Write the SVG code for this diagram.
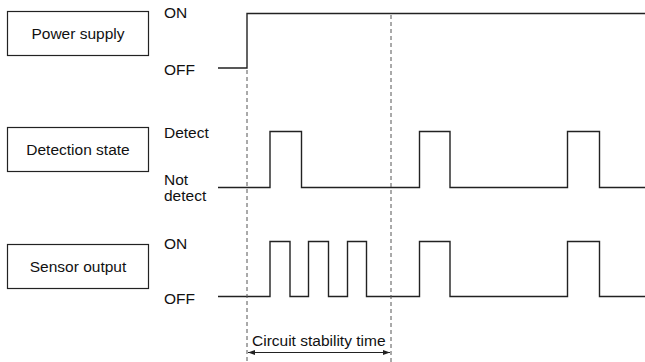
<svg xmlns="http://www.w3.org/2000/svg" width="645" height="362" viewBox="0 0 645 362">
<defs>
<style>
.box{fill:#fff;stroke:#222;stroke-width:1.2}
.t{font-family:"Liberation Sans",Arial,sans-serif;font-size:15.5px;fill:#111}
.tm{text-anchor:middle}
.wave{fill:none;stroke:#222;stroke-width:1.4;stroke-linejoin:miter}
.dash{fill:none;stroke:#555;stroke-width:1;stroke-dasharray:4 3}
.arr{fill:none;stroke:#222;stroke-width:1}
</style>
<marker id="ah" viewBox="0 0 7 5" refX="7" refY="2.5" markerWidth="7" markerHeight="5" orient="auto-start-reverse" markerUnits="userSpaceOnUse">
<path d="M0,0 L7,2.5 L0,5 z" fill="#222"/>
</marker>
</defs>
<rect width="645" height="362" fill="#fff"/>
<g id="power-supply">
<rect class="box" x="7.5" y="11.5" width="141" height="44"/>
<text class="t tm" x="78" y="39">Power supply</text>
</g>
<g id="detection-state">
<rect class="box" x="7.5" y="127.5" width="141" height="44"/>
<text class="t tm" x="78" y="155">Detection state</text>
</g>
<g id="sensor-output">
<rect class="box" x="7.5" y="244.5" width="141" height="44"/>
<text class="t tm" x="78" y="272">Sensor output</text>
</g>
<g id="labels">
<text class="t" x="164" y="18">ON</text>
<text class="t" x="164" y="75">OFF</text>
<text class="t" x="164" y="138">Detect</text>
<text class="t" x="164" y="185">Not</text>
<text class="t" x="164" y="201">detect</text>
<text class="t" x="164" y="249">ON</text>
<text class="t" x="164" y="304">OFF</text>
<text class="t" x="252" y="346">Circuit stability time</text>
</g>
<g id="connectors">
<path class="wave" d="M218,68 H247 V13.5 H645"/>
<path class="wave" d="M218,187.5 H270 V131.5 H301.5 V187.5 H419.5 V131.5 H450 V187.5 H567.5 V131.5 H599.5 V187.5 H645"/>
<path class="wave" d="M218,296.5 H270 V241.5 H290 V296.5 H308.5 V241.5 H328.5 V296.5 H347.5 V241.5 H366.5 V296.5 H419.5 V241.5 H450 V296.5 H567.5 V241.5 H599.5 V296.5 H645"/>
<line class="dash" x1="247" y1="70" x2="247" y2="362"/>
<line class="dash" x1="391" y1="15" x2="391" y2="362"/>
<line class="arr" x1="248" y1="352.5" x2="390" y2="352.5" marker-start="url(#ah)" marker-end="url(#ah)"/>
</g>
</svg>
